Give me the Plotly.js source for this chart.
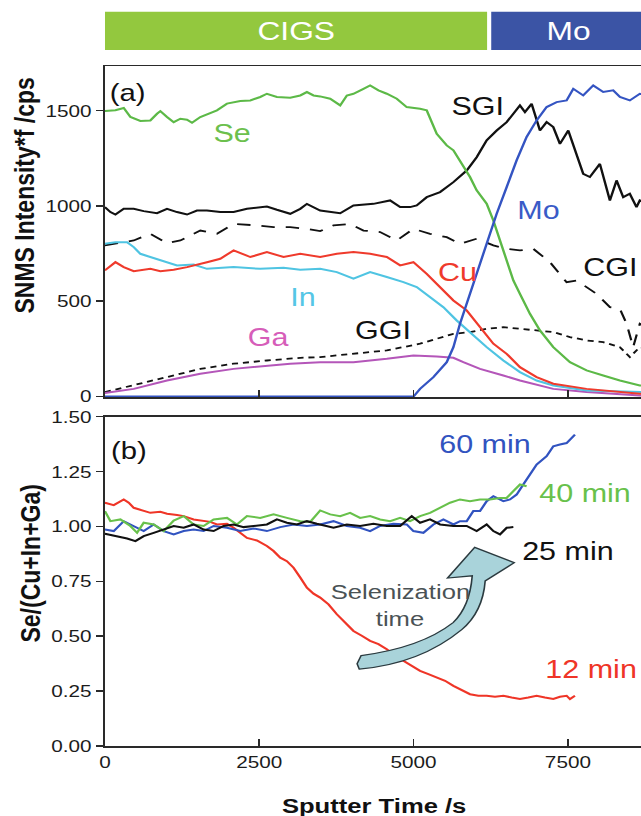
<!DOCTYPE html>
<html>
<head>
<meta charset="utf-8">
<script src="https://cdn.plot.ly/plotly-3.0.1.min.js"></script>
<style>
html, body { margin:0; padding:0; overflow:hidden; width:641px; height:816px; background:#ffffff; }
#plot { width:624px; height:816px; transform: scaleX(1.22); transform-origin: 0 0; }
</style>
</head>
<body>
<div id="plot"></div>
<script>
// ---------- Panel (a): SNMS intensity vs sputter time ----------
var seT = [0,170,305,413,574,736,844,898,1006,1114,1222,1330,1411,1545,1815,1977,2193,2355,2516,2624,2786,3002,3164,3272,3379,3487,3649,3811,3919,4026,4188,4296,4431,4566,4728,4889,5105,5213,5375,5537,5645,5806,5914,6022,6184,6292,6400,6508,6616,6723,6885,7047,7263,7533,7802,8072,8342,8665,9000];
var seV = [1498,1502,1514,1467,1446,1449,1484,1498,1467,1440,1458,1453,1437,1467,1502,1537,1551,1554,1572,1589,1572,1568,1580,1598,1580,1575,1563,1528,1580,1589,1615,1633,1607,1589,1563,1519,1510,1502,1379,1318,1292,1204,1152,1082,1012,924,819,714,609,539,434,347,259,180,137,110,84,58,45];

var sgiT = [0,89,170,305,467,628,844,1006,1168,1330,1491,1653,1869,2085,2301,2516,2624,2786,3002,3164,3272,3487,3811,4026,4350,4620,4782,4943,5051,5213,5429,5645,5860,6022,6184,6346,6508,6616,6723,6804,6912,7047,7155,7263,7371,7506,7640,7748,7856,8018,8180,8288,8396,8503,8611,8665,9000];
var sgiV = [994,968,955,985,985,973,962,985,968,955,976,976,968,968,985,994,997,980,959,985,1011,976,962,1003,1011,1029,994,994,1003,1046,1073,1125,1186,1256,1344,1396,1440,1484,1528,1493,1536,1396,1440,1414,1326,1396,1274,1169,1152,1221,1029,1134,1046,1064,994,1029,990];

var cgiT = [0,251,467,736,1006,1222,1545,1815,2085,2462,2732,3002,3272,3487,3703,3972,4188,4458,4728,4997,5267,5537,5752,6022,6292,6508,6723,6939,7209,7479,7640,7802,7964,8180,8342,8450,8557,8665,9000];
var cgiV = [793,805,819,854,805,819,871,854,906,898,889,889,880,868,898,906,871,863,819,880,854,836,801,828,793,775,767,775,705,600,609,574,539,469,460,382,259,382,330];

var ggiT = [0,467,1006,1545,2085,2624,3164,3487,4026,4566,5105,5645,5914,6184,6454,6723,6993,7263,7533,7802,8072,8342,8503,8665,9000];
var ggiV = [23,58,102,145,172,189,203,207,224,242,277,329,338,355,364,355,347,338,312,294,285,259,207,259,240];

var cuT = [0,170,305,467,736,898,1114,1330,1653,1869,2085,2355,2624,2894,3164,3487,3757,4026,4296,4566,4782,4997,5213,5429,5645,5860,6076,6292,6508,6723,6993,7263,7802,8342,8665,9000];
var cuV = [662,705,679,658,670,658,665,679,705,723,767,732,758,732,749,732,749,758,749,732,688,705,644,574,504,452,364,277,224,154,102,67,40,23,14,10];

var inT = [0,170,359,467,574,844,1168,1437,1653,2085,2516,2894,3164,3487,3757,4026,4296,4566,4836,5051,5267,5483,5699,5914,6184,6454,6723,6993,7263,7802,8665,9000];
var inV = [802,810,810,784,749,723,688,693,670,679,670,676,665,670,653,618,653,627,600,574,522,469,399,338,259,189,128,84,58,32,23,20];

var gaT = [0,467,1006,1545,2085,2624,3002,3487,4026,4566,4997,5375,5645,5806,6076,6454,6723,7263,7802,8665,9000];
var gaV = [18,40,84,119,145,163,172,180,180,198,215,210,203,180,145,110,84,40,23,5,4];

var moT = [0,5000,5105,5321,5537,5645,5752,5860,6022,6184,6346,6508,6669,6831,6993,7155,7317,7479,7587,7748,7910,8072,8234,8342,8503,8665,9000];
var moV = [0,0,40,102,180,259,382,487,644,802,959,1099,1239,1362,1449,1519,1545,1554,1615,1580,1633,1598,1607,1572,1554,1589,1570];

// ---------- Panel (b): Se/(Cu+In+Ga) for selenization times ----------
var m12T = [0,143,305,386,467,628,736,898,1006,1168,1276,1437,1545,1707,1815,1977,2085,2193,2301,2462,2624,2732,2840,2948,3056,3164,3272,3379,3487,3622,3757,3892,4026,4161,4296,4431,4566,4701,4836,4970,5105,5240,5375,5510,5645,5779,5914,6049,6184,6319,6454,6589,6723,6858,6993,7128,7263,7371,7479,7533,7614];
var m12V = [1.108,1.097,1.123,1.108,1.085,1.070,1.062,1.067,1.058,1.052,1.047,1.032,1.027,1.021,1.009,1.012,0.994,0.971,0.948,0.936,0.911,0.888,0.858,0.842,0.812,0.767,0.721,0.694,0.676,0.645,0.600,0.562,0.524,0.502,0.479,0.464,0.441,0.411,0.388,0.365,0.342,0.327,0.312,0.297,0.274,0.255,0.236,0.229,0.229,0.224,0.229,0.221,0.214,0.221,0.229,0.221,0.214,0.224,0.229,0.214,0.229];

var m25T = [0,197,359,494,628,790,952,1114,1276,1437,1599,1761,1923,2085,2247,2408,2624,2786,2948,3110,3272,3433,3487,3703,3919,4134,4350,4566,4782,4970,5105,5267,5429,5645,5860,6022,6184,6292,6400,6508,6616];
var m25V = [0.967,0.956,0.945,0.933,0.956,0.971,0.986,1.002,0.994,1.009,0.986,0.979,1.002,1.009,0.997,1.002,1.009,1.032,1.017,1.009,1.024,1.012,1.009,0.994,1.009,1.002,1.012,1.002,1.002,1.047,1.017,1.032,1.009,1.002,1.002,0.979,1.009,0.979,0.964,0.994,0.997];

var m40T = [0,89,251,413,521,628,790,952,1114,1276,1437,1599,1761,1977,2139,2301,2516,2732,2948,3164,3326,3487,3649,3811,3972,4134,4296,4458,4620,4782,4943,5105,5267,5429,5591,5752,5914,6076,6238,6400,6508,6616,6723,6831];
var m40V = [1.070,1.024,1.032,1.002,0.971,1.017,1.009,0.979,1.027,1.047,1.009,1.002,1.032,1.039,1.009,1.047,1.039,1.055,1.039,1.024,1.021,1.073,1.055,1.047,1.062,1.039,1.047,1.032,1.024,1.039,1.024,1.047,1.062,1.085,1.108,1.123,1.115,1.123,1.123,1.130,1.130,1.161,1.191,1.183];

var m60T = [0,143,305,467,628,790,952,1114,1276,1437,1599,1761,1977,2193,2408,2624,2840,3056,3272,3487,3703,3919,4134,4296,4458,4674,4889,4997,5159,5321,5483,5645,5752,5860,5968,6076,6184,6292,6454,6562,6669,6777,6885,6993,7155,7263,7371,7479,7614];
var m60V = [0.986,0.979,1.024,1.002,0.979,1.009,0.979,0.964,0.979,0.986,0.979,1.002,0.994,0.979,0.991,0.979,0.997,1.009,1.002,1.009,1.024,1.002,0.994,0.979,1.002,1.012,1.009,0.979,0.971,1.009,1.032,1.009,1.024,1.024,1.070,1.070,1.115,1.138,1.115,1.123,1.145,1.191,1.236,1.282,1.320,1.365,1.373,1.380,1.418];

// tick labels
var xTicks = [0, 2500, 5000, 7500];
var xTickText = ['0', '2500', '5000', '7500'];
var yTicksA = [0, 500, 1000, 1500];
var yTicksB = [0, 0.25, 0.5, 0.75, 1.0, 1.25, 1.5];

var FONT = 'Liberation Sans, Arial, Helvetica, sans-serif';
var C = {
  se: '#5cb947', sgi: '#111111', mo: '#3454c2', cu: '#ef3a2c', inn: '#4fc4e2', ga: '#b456b9',
  b60: '#3153c0', b40: '#68c14b', b25: '#111111', b12: '#ef3527'
};

function ln(x, y, color, xa, ya, dash, w) {
  return {x: x, y: y, type: 'scatter', mode: 'lines', xaxis: xa, yaxis: ya,
    line: {color: color, width: w || 2, dash: dash || 'solid'}, hoverinfo: 'skip', showlegend: false};
}

var data = [
  ln(ggiT, ggiV, C.sgi, 'x', 'y', '5px,4px', 1.8),
  ln(cgiT, cgiV, C.sgi, 'x', 'y', '11px,9px', 1.8),
  ln(gaT, gaV, C.ga, 'x', 'y'),
  ln(inT, inV, C.inn, 'x', 'y'),
  ln(cuT, cuV, C.cu, 'x', 'y'),
  ln(sgiT, sgiV, C.sgi, 'x', 'y'),
  ln(seT, seV, C.se, 'x', 'y'),
  ln(moT, moV, C.mo, 'x', 'y'),
  ln(m12T, m12V, C.b12, 'x2', 'y2'),
  ln(m60T, m60V, C.b60, 'x2', 'y2'),
  ln(m40T, m40V, C.b40, 'x2', 'y2'),
  ln(m25T, m25V, C.b25, 'x2', 'y2')
];

var axisCommon = {
  showgrid: false, zeroline: false, showline: true, mirror: true,
  linecolor: '#2a2a2a', linewidth: 1.5, tickcolor: '#2a2a2a', tickwidth: 1.5,
  tickfont: {family: FONT, size: 17, color: '#1c1c1c'}
};

function ax(extra) { return Object.assign({}, axisCommon, extra); }

function lab(text, x, y, color, size, xref, yref) {
  return {text: text, x: x, y: y, xref: xref, yref: yref, showarrow: false,
    xanchor: 'center', yanchor: 'middle', font: {family: FONT, size: size, color: color}};
}

var ann = [
  lab('(a)', 372, 1594, '#111', 24, 'x', 'y'),
  lab('Se', 2067, 1383, '#6cc04d', 25, 'x', 'y'),
  lab('SGI', 6028, 1525, '#111', 25, 'x', 'y'),
  lab('Mo', 7031, 979, '#3a5bc7', 25, 'x', 'y'),
  lab('CGI', 8172, 680, '#111', 25, 'x', 'y'),
  lab('Cu', 5712, 651, '#ef3a2c', 25, 'x', 'y'),
  lab('In', 3212, 522, '#55c6e6', 25, 'x', 'y'),
  lab('Ga', 2638, 312, '#d65db9', 25, 'x', 'y'),
  lab('GGI', 4515, 349, '#111', 25, 'x', 'y'),
  lab('(b)', 388, 1.346, '#111', 24, 'x2', 'y2'),
  lab('60 min', 6165, 1.376, '#3153c0', 25, 'x2', 'y2'),
  lab('40 min', 7775, 1.152, '#68c14b', 25, 'x2', 'y2'),
  lab('25 min', 7508, 0.888, '#111', 25, 'x2', 'y2'),
  lab('Selenization', 4782, 0.705, '#4a5255', 21, 'x2', 'y2'),
  lab('time', 4782, 0.582, '#4a5255', 21, 'x2', 'y2'),
  lab('12 min', 7872, 0.35, '#ef3527', 25, 'x2', 'y2'),
  lab('CIGS', 3110, 1.0515, '#ffffff', 26, 'x', 'paper'),
  lab('Mo', 7512, 1.0515, '#ffffff', 26, 'x', 'paper'),
  {text: '<b>Sputter Time /s</b>', x: 0.436, y: -0.087, xref: 'paper', yref: 'paper', showarrow: false,
   xanchor: 'center', yanchor: 'middle', font: {family: FONT, size: 21, color: '#111'}},
  {text: '<b>SNMS Intensity*f /cps</b>', x: -0.131, y: 0.809, xref: 'paper', yref: 'paper', showarrow: false,
   textangle: -90, xanchor: 'center', yanchor: 'middle', font: {family: FONT, size: 23, color: '#111'}},
  {text: '<b>Se/(Cu+In+Ga)</b>', x: -0.121, y: 0.268, xref: 'paper', yref: 'paper', showarrow: false,
   textangle: -90, xanchor: 'center', yanchor: 'middle', font: {family: FONT, size: 23, color: '#111'}}
];

var arrowPath = 'M 4120,0.350 Q 5110,0.375 5780,0.530 Q 6120,0.610 6160,0.752 L 6630,0.835 L 5990,0.905 L 5550,0.765 L 5950,0.775 Q 5910,0.635 5640,0.562 Q 5120,0.448 4150,0.412 L 4085,0.375 Z';

var shapes = [
  {type: 'rect', xref: 'x', yref: 'paper', x0: 0, x1: 6191, y0: 1.0235, y1: 1.0799,
   fillcolor: '#93c83e', line: {width: 0}},
  {type: 'rect', xref: 'x', yref: 'paper', x0: 6258, x1: 10000, y0: 1.0235, y1: 1.0799,
   fillcolor: '#3b54a5', line: {width: 0}},
  {type: 'path', xref: 'x2', yref: 'y2', path: arrowPath,
   fillcolor: '#a9d3da', line: {color: '#2b3a3f', width: 1.3}}
];

var layout = {
  width: 624, height: 816,
  margin: {l: 86, r: 32, t: 66, b: 70},
  paper_bgcolor: '#ffffff', plot_bgcolor: '#ffffff',
  showlegend: false,
  font: {family: FONT},
  xaxis: ax({domain: [0, 1], anchor: 'y', range: [0, 10000], tickvals: xTicks, ticks: 'inside', ticklen: 7, showticklabels: false}),
  yaxis: ax({domain: [0.5128, 1], anchor: 'x', range: [-4.2, 1734.6], tickvals: yTicksA, ticktext: ['0','500','1000','1500'], ticks: 'outside', ticklen: 6}),
  xaxis2: ax({domain: [0, 1], anchor: 'y2', range: [0, 10000], matches: 'x', tickvals: xTicks, ticktext: xTickText, ticks: 'inside', ticklen: 7}),
  yaxis2: ax({domain: [0, 0.4843], anchor: 'x2', range: [0, 1.5], tickvals: yTicksB, tickformat: '.2f', ticks: 'outside', ticklen: 6}),
  annotations: ann,
  shapes: shapes
};

Plotly.newPlot('plot', data, layout, {displayModeBar: false, staticPlot: true});
</script>
</body>
</html>
